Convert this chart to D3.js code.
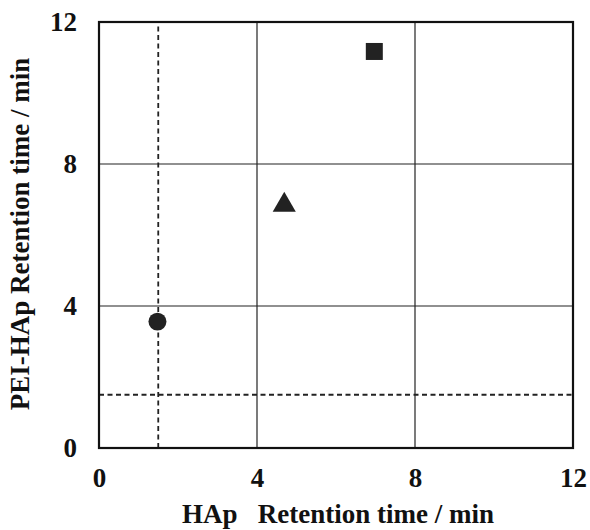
<!DOCTYPE html>
<meta charset="utf-8">
<html>
<head>
    <title>Retention time comparison</title>
    <style>
        body { margin: 0; background: #fff; }
        text { font-family: "Liberation Serif", "Times New Roman", serif !important; font-weight: bold; fill: #111; }
    </style>
</head>
<body>
    <div id="container"></div>
    <script src="https://d3js.org/d3.v7.min.js"></script>
    <script>
        // data
        const hapTimes = [1.48, 4.69, 6.97];        // x: HAp retention time (min)
        const peiTimes = [3.56, 6.84, 11.17];       // y: PEI-HAp retention time (min)
        const shapes = ["circle", "triangle", "square"];
        const xTicks = [0, 4, 8, 12];
        const yTicks = [0, 4, 8, 12];
        const deadTimeX = [1.5];   // vertical dashed reference
        const deadTimeY = [1.5];   // horizontal dashed reference

        const width = 590, height = 530;
        const margin = { left: 99, right: 17, top: 22, bottom: 82 };
        const fontSize = 27;

        const x = d3.scaleLinear().domain([0, 12]).range([margin.left, width - margin.right]);
        const y = d3.scaleLinear().domain([0, 12]).range([height - margin.bottom, margin.top]);

        const svg = d3.select("#container").append("svg")
            .attr("width", width)
            .attr("height", height);

        // grid lines
        svg.append("g")
            .attr("stroke", "#222")
            .attr("stroke-width", 1.2)
            .selectAll("line")
            .data(xTicks.slice(1, -1))
            .join("line")
            .attr("x1", d => x(d)).attr("x2", d => x(d))
            .attr("y1", y(0)).attr("y2", y(12));
        svg.append("g")
            .attr("stroke", "#222")
            .attr("stroke-width", 1.2)
            .selectAll("line")
            .data(yTicks.slice(1, -1))
            .join("line")
            .attr("x1", x(0)).attr("x2", x(12))
            .attr("y1", d => y(d)).attr("y2", d => y(d));

        // dashed reference lines
        const dash = svg.append("g")
            .attr("stroke", "#222")
            .attr("stroke-width", 1.8)
            .attr("stroke-dasharray", "5,3.5");
        dash.append("g").selectAll("line")
            .data(deadTimeX)
            .join("line")
            .attr("x1", d => x(d)).attr("x2", d => x(d))
            .attr("y1", y(0)).attr("y2", y(12));
        dash.append("g").selectAll("line")
            .data(deadTimeY)
            .join("line")
            .attr("x1", x(0)).attr("x2", x(12))
            .attr("y1", d => y(d)).attr("y2", d => y(d));

        // frame
        svg.append("rect")
            .attr("x", x(0)).attr("y", y(12))
            .attr("width", x(12) - x(0)).attr("height", y(0) - y(12))
            .attr("fill", "none")
            .attr("stroke", "#111")
            .attr("stroke-width", 2.2);

        // axes (labels only)
        function styleAxis(g) {
            g.select(".domain").remove();
            g.attr("font-family", "'Liberation Serif', serif")
                .attr("font-size", fontSize)
                .attr("font-weight", "bold");
            g.selectAll("text")
                .style("font-size", fontSize + "px")
                .style("font-weight", "bold")
                .attr("fill", "#111");
        }

        svg.append("g")
            .attr("transform", `translate(0,${y(0)})`)
            .call(d3.axisBottom(x).tickValues(xTicks).tickSize(0).tickPadding(20))
            .call(styleAxis);

        svg.append("g")
            .attr("transform", `translate(${x(0)},0)`)
            .call(d3.axisLeft(y).tickValues(yTicks).tickSize(0).tickPadding(22))
            .call(styleAxis);

        // markers
        const symbolTypes = { circle: d3.symbolCircle, triangle: d3.symbolTriangle, square: d3.symbolSquare };
        const symbolSizes = { circle: 254, triangle: 231, square: 289 };
        const points = hapTimes.map((v, i) => ({ x: v, y: peiTimes[i], shape: shapes[i] }));
        svg.append("g")
            .selectAll("path")
            .data(points)
            .join("path")
            .attr("transform", d => `translate(${x(d.x)},${y(d.y)})`)
            .attr("d", d => d3.symbol().type(symbolTypes[d.shape]).size(symbolSizes[d.shape])())
            .attr("fill", "#222");

        // axis titles
        svg.append("text")
            .attr("x", 338)
            .attr("y", 523)
            .attr("text-anchor", "middle")
            .style("font-size", fontSize + "px")
            .style("white-space", "pre")
            .text("HAp   Retention time / min");

        svg.append("text")
            .attr("transform", "translate(29,234) rotate(-90)")
            .attr("text-anchor", "middle")
            .style("font-size", fontSize + "px")
            .text("PEI-HAp Retention time / min");
    </script>
</body>
</html>
